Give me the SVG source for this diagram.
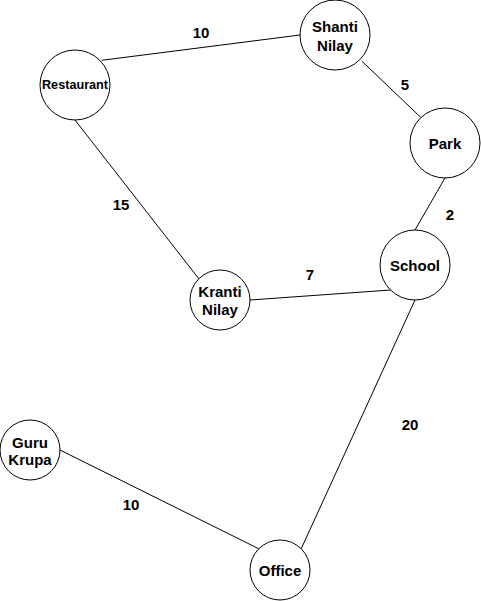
<svg xmlns="http://www.w3.org/2000/svg" width="481" height="601" viewBox="0 0 481 601">
  <style>
    .node { fill: #ffffff; stroke: #000000; stroke-width: 1; }
    .edge { fill: none; stroke: #000000; stroke-width: 1; }
    .label { font-family: "Liberation Sans", Arial, Helvetica, sans-serif; font-weight: bold; font-size: 15px; fill: #000000; text-anchor: middle; }
    .weight { font-family: "Liberation Sans", Arial, Helvetica, sans-serif; font-weight: bold; font-size: 15px; fill: #000000; text-anchor: middle; }
  </style>
  <rect width="481" height="601" fill="#ffffff"/>

  <!-- connectors -->
  <g id="edges">
    <line class="edge" x1="101.7" y1="60.3" x2="300" y2="35"/>
    <line class="edge" x1="361.7" y1="61" x2="420.7" y2="117.3"/>
    <line class="edge" x1="445" y1="178" x2="415" y2="230"/>
    <line class="edge" x1="75" y1="120" x2="199" y2="279"/>
    <line class="edge" x1="250" y1="300" x2="390.7" y2="290"/>
    <line class="edge" x1="415" y1="300" x2="301.2" y2="548.8"/>
    <line class="edge" x1="60" y1="450" x2="258.8" y2="548.8"/>
  </g>

  <!-- edge weights -->
  <g id="weights">
    <text class="weight" x="201" y="37.5">10</text>
    <text class="weight" x="405" y="90">5</text>
    <text class="weight" x="121" y="210">15</text>
    <text class="weight" x="450" y="220">2</text>
    <text class="weight" x="310" y="280">7</text>
    <text class="weight" x="410" y="430">20</text>
    <text class="weight" x="131" y="510">10</text>
  </g>

  <g id="node-restaurant">
    <circle class="node" cx="75" cy="85" r="35"/>
    <text class="label" x="75" y="89" style="font-size:12px" textLength="66" lengthAdjust="spacingAndGlyphs">Restaurant</text>
  </g>

  <g id="node-shanti-nilay">
    <circle class="node" cx="335" cy="35" r="35"/>
    <text class="label" x="335" y="32">Shanti</text>
    <text class="label" x="335" y="50.5">Nilay</text>
  </g>

  <g id="node-park">
    <circle class="node" cx="445" cy="143" r="35"/>
    <text class="label" x="445" y="148.5">Park</text>
  </g>

  <g id="node-school">
    <circle class="node" cx="415" cy="265" r="35"/>
    <text class="label" x="415" y="271">School</text>
  </g>

  <g id="node-kranti-nilay">
    <circle class="node" cx="220" cy="300" r="30"/>
    <text class="label" x="220" y="297">Kranti</text>
    <text class="label" x="220" y="315">Nilay</text>
  </g>

  <g id="node-guru-krupa">
    <circle class="node" cx="30" cy="450" r="30"/>
    <text class="label" x="30" y="448">Guru</text>
    <text class="label" x="30" y="465">Krupa</text>
  </g>

  <g id="node-office">
    <circle class="node" cx="280" cy="570" r="30"/>
    <text class="label" x="280" y="575.5">Office</text>
  </g>
</svg>
